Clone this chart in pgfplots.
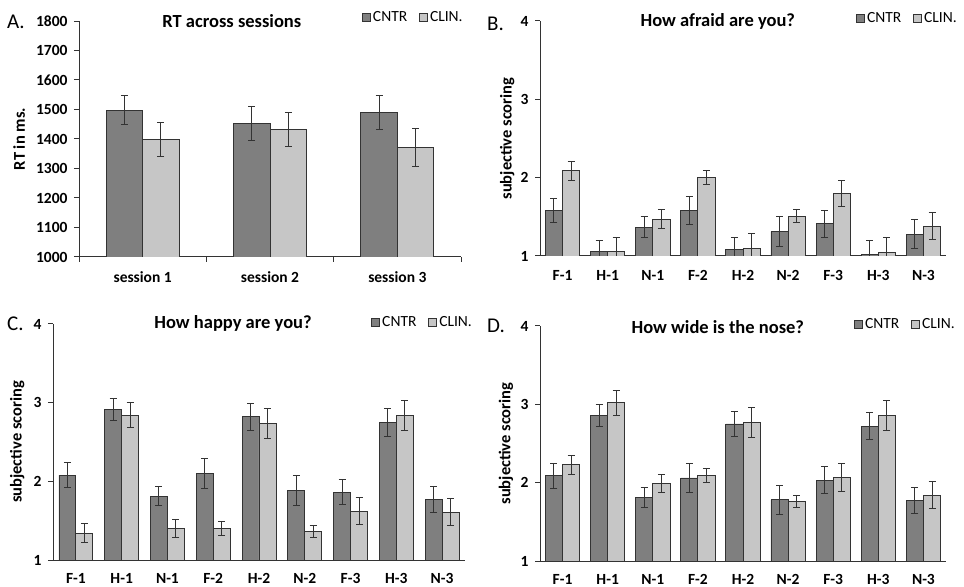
\documentclass[border=0pt]{standalone}
\usepackage{pgfplots}
\pgfplotsset{compat=1.18}
\usepackage{pgfplotstable}
\usepackage{fontspec}
\setmainfont{Carlito}
\definecolor{cntr}{HTML}{7F7F7F}
\definecolor{clin}{HTML}{C6C6C6}
\definecolor{edge}{HTML}{333333}

\pgfplotstableread{
x c ce k ke
0 1498 48 1398 57
1 1453 58 1433 58
2 1490 58 1372 65
}\tabA
\pgfplotstableread{
x c ce k ke
0 1.58 0.15 2.09 0.12
1 1.06 0.14 1.06 0.17
2 1.37 0.13 1.47 0.12
3 1.58 0.18 2.00 0.09
4 1.08 0.16 1.10 0.19
5 1.31 0.19 1.51 0.08
6 1.41 0.17 1.80 0.17
7 1.02 0.18 1.05 0.19
8 1.28 0.18 1.38 0.17
}\tabB
\pgfplotstableread{
x c ce k ke
0 2.08 0.16 1.34 0.12
1 2.91 0.14 2.84 0.16
2 1.81 0.12 1.40 0.12
3 2.10 0.19 1.40 0.09
4 2.82 0.17 2.74 0.19
5 1.88 0.19 1.36 0.08
6 1.86 0.16 1.62 0.17
7 2.75 0.18 2.84 0.19
8 1.77 0.17 1.61 0.17
}\tabC
\pgfplotstableread{
x c ce k ke
0 2.09 0.16 2.23 0.12
1 2.86 0.14 3.02 0.16
2 1.81 0.13 1.99 0.12
3 2.06 0.19 2.09 0.09
4 2.75 0.16 2.77 0.19
5 1.78 0.19 1.76 0.08
6 2.03 0.17 2.07 0.18
7 2.72 0.17 2.86 0.19
8 1.77 0.17 1.84 0.17
}\tabD

\pgfplotsset{
  panel/.style={
    scale only axis,
    anchor=south west,
    ybar,
    axis lines=left,
    axis line style={-, edge, line width=1bp},
    tick align=outside,
    major tick length=5bp,
    xtick=data,
    xtick style={draw=none},
    ytick style={edge, line width=1bp},
    /pgf/number format/1000 sep={},
    /pgf/number format/assume math mode=true,
    yticklabel style={font=\fontsize{15.5bp}{17bp}\selectfont\bfseries, xshift=-3bp},
    xticklabel style={font=\fontsize{15.5bp}{17bp}\selectfont\bfseries, yshift=-6bp},
    ylabel style={font=\fontsize{16.5bp}{18bp}\selectfont\bfseries, anchor=center},
    title style={font=\fontsize{18.5bp}{20bp}\selectfont\bfseries, anchor=center},
    legend style={draw=none, fill=none, font=\fontsize{15.5bp}{17bp}\selectfont,
      legend columns=2, inner sep=0pt, anchor=east,
      /tikz/every even column/.append style={column sep=10bp}},
    legend cell align=left,
    legend image code/.code={\draw[#1, draw=edge, line width=0.8bp] (0bp,-4bp) rectangle (8bp,4bp);},
    error bars/y dir=both,
    error bars/y explicit,
    error bars/error bar style={edge, line width=1bp},
    error bars/error mark options={rotate=90, mark size=3.5bp, line width=1bp, edge},
  },
  cntrbar/.style={fill=cntr, draw=edge, line width=0.8bp},
  clinbar/.style={fill=clin, draw=edge, line width=0.8bp},
}

\begin{document}
\begin{tikzpicture}
\useasboundingbox (0,0) rectangle (964bp,587bp);
% Panel A
\begin{axis}[panel,
  at={(79bp,330bp)}, width=382bp, height=236bp,
  xmin=-0.5, xmax=2.5, ymin=1000, ymax=1800,
  ytick={1000,1100,...,1800},
  xticklabels={session 1, session 2, session 3},
  extra x ticks={-0.5,0.5,1.5,2.5}, extra x tick labels={},
  extra x tick style={xtick style={draw=edge, line width=1bp}},
  bar width=0.287,
  ylabel={RT in ms.},
  ylabel style={at={(rel axis cs:-0.157,0.5)}},
  title={RT across sessions},
  title style={at={(rel axis cs:0.40,0.975)}},
  legend style={at={(rel axis cs:1.01,1.017)}},
]
\addplot[cntrbar, bar shift=-0.1435] table[x=x, y=c, y error=ce] {\tabA};
\addplot[clinbar, bar shift=0.1435] table[x=x, y=k, y error=ke] {\tabA};
\legend{CNTR, CLIN.}
\end{axis}
% Panel B
\begin{axis}[panel,
  at={(540bp,331bp)}, width=406bp, height=235bp,
  xmin=-0.5, xmax=8.5, ymin=1, ymax=4,
  ytick={1,2,3,4},
  xticklabels={F-1,H-1,N-1,F-2,H-2,N-2,F-3,H-3,N-3},
  bar width=0.38,
  ylabel={subjective scoring},
  ylabel style={at={(rel axis cs:-0.081,0.5)}},
  title={How afraid are you?},
  title style={at={(rel axis cs:0.438,0.974)}},
  legend style={at={(rel axis cs:1.032,1.013)}},
]
\addplot[cntrbar, bar shift=-0.19] table[x=x, y=c, y error=ce] {\tabB};
\addplot[clinbar, bar shift=0.19] table[x=x, y=k, y error=ke] {\tabB};
\legend{CNTR, CLIN.}
\end{axis}
% Panel C
\begin{axis}[panel,
  at={(53bp,27bp)}, width=412bp, height=236bp,
  xmin=-0.5, xmax=8.5, ymin=1, ymax=4,
  ytick={1,2,3,4},
  xticklabels={F-1,H-1,N-1,F-2,H-2,N-2,F-3,H-3,N-3},
  xticklabel style={yshift=1bp},
  bar width=0.37,
  ylabel={subjective scoring},
  ylabel style={at={(rel axis cs:-0.087,0.5)}},
  title={How happy are you?},
  title style={at={(rel axis cs:0.437,0.975)}},
  legend style={at={(rel axis cs:1.022,1.008)}},
]
\addplot[cntrbar, bar shift=-0.185] table[x=x, y=c, y error=ce] {\tabC};
\addplot[clinbar, bar shift=0.185] table[x=x, y=k, y error=ke] {\tabC};
\legend{CNTR, CLIN.}
\end{axis}
% Panel D
\begin{axis}[panel,
  at={(540bp,26bp)}, width=406bp, height=235bp,
  xmin=-0.5, xmax=8.5, ymin=1, ymax=4,
  ytick={1,2,3,4},
  xticklabels={F-1,H-1,N-1,F-2,H-2,N-2,F-3,H-3,N-3},
  xticklabel style={yshift=1bp},
  bar width=0.38,
  ylabel={subjective scoring},
  ylabel style={at={(rel axis cs:-0.084,0.5)}},
  title={How wide is the nose?},
  title style={at={(rel axis cs:0.438,0.97)}},
  legend style={at={(rel axis cs:1.027,1.008)}},
]
\addplot[cntrbar, bar shift=-0.19] table[x=x, y=c, y error=ce] {\tabD};
\addplot[clinbar, bar shift=0.19] table[x=x, y=k, y error=ke] {\tabD};
\legend{CNTR, CLIN.}
\end{axis}
% Panel letters
\begin{scope}[every node/.style={font=\fontsize{21bp}{23bp}\selectfont, anchor=west, inner sep=0pt}]
\node at (7bp,565bp) {A.};
\node at (487bp,563bp) {B.};
\node at (7bp,263bp) {C.};
\node at (487bp,261bp) {D.};
\end{scope}
\end{tikzpicture}
\end{document}
